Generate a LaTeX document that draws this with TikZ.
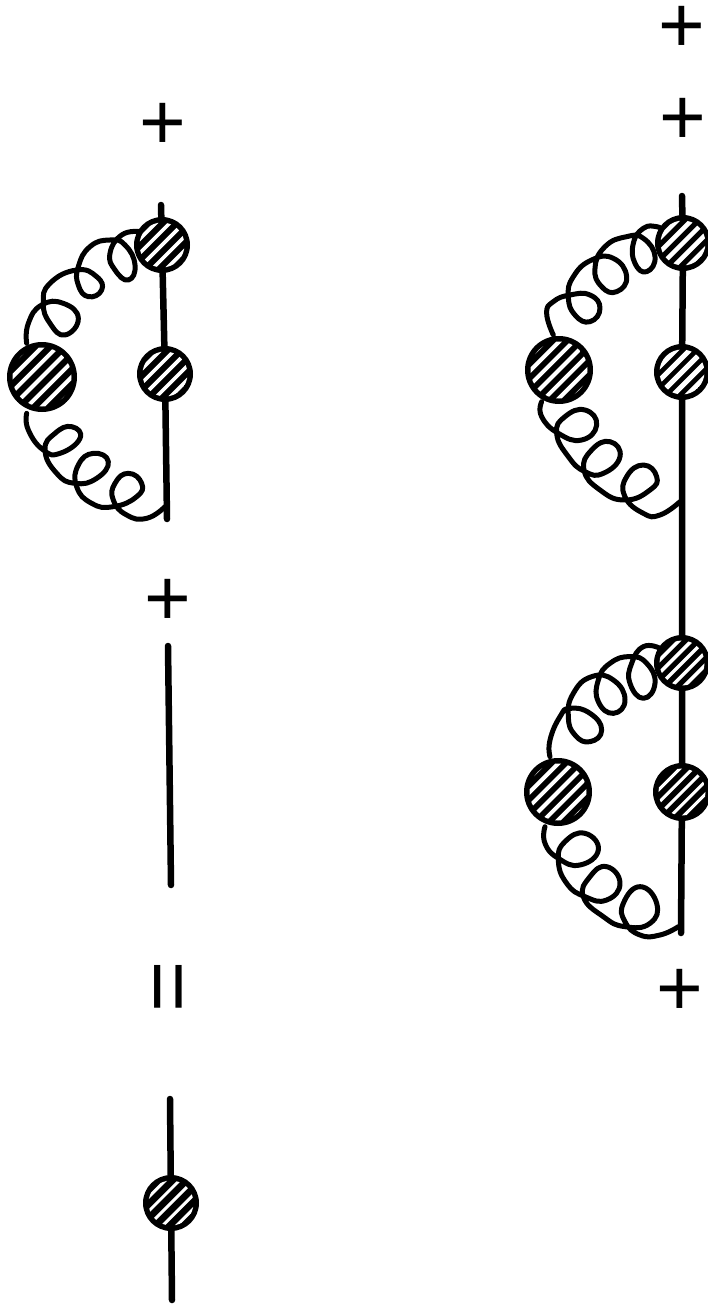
\documentclass[tikz,border=0pt]{standalone}
\usepackage{fontspec}
\setmainfont{Liberation Sans}
\newcommand{\myblob}[6]{% name,x,y,r,spacing,stripe width
  \node[blobnode,minimum size=#4*2pt] (#1) at (#2,#3) {};
  \begin{scope}[shift={(#2,#3)}]
    \clip (0,0) circle[radius=#4-5.5];
    \foreach \d in {-5,...,5}
      \draw[white,line width=#6pt] ({\d*#5*.7071-60},{\d*#5*.7071+60}) -- ({\d*#5*.7071+60},{\d*#5*.7071-60});
  \end{scope}}
\tikzset{
  blobnode/.style={circle,fill=black,draw=none,inner sep=0pt},
  mainline/.style={line width=6.5pt,line cap=round,black},
  gluon/.style={line width=5pt,line cap=round,line join=round,black},
  sign/.style={inner sep=0pt,font=\fontsize{80}{80}\selectfont},
  gl/.style={x=.33333pt,y=-.33333pt},
  loopy/.style={smooth,tension=0.85}
}
\begin{document}
\begin{tikzpicture}[x=1pt,y=-1pt]
\useasboundingbox (0,0) rectangle (707,1309);
% signs
\node[sign] (p1) at (163,126) {+};
\node[sign] (p2) at (168,602) {+};
\node[sign] (p3) at (682,29) {+};
\node[sign] (p4) at (683,121) {+};
\node[sign] (p5) at (680,992) {+};
\node[sign,rotate=90] (eq) at (176,987) {\scalebox{1.1}[1.07]{=}};
% free ends
\coordinate (lt) at (161,205);
\coordinate (le) at (167,519);
\coordinate (rt) at (682,196);
\coordinate (re) at (681,933);
\coordinate (mt) at (168,646);
\coordinate (me) at (171,885);
\coordinate (bt) at (170,1099);
\coordinate (be) at (172,1300);
% gluons
\begin{scope}[shift={(0,190)},gl]
\draw[gluon] plot[loopy] coordinates {(80,460)(85,400)(125,345)(190,340)(235,385)(195,435)(150,400)(130,340)(150,280)(230,240)(290,260)(305,300)(265,320)(235,285)(235,230)(270,170)(330,150)(375,165)(405,225)(385,270)(345,240)(330,190)(365,135)(420,125)};
\draw[gluon] plot[loopy] coordinates {(80,670)(85,720)(130,780)(180,790)(240,745)(215,710)(165,730)(135,780)(170,850)(225,880)(290,865)(325,815)(280,790)(235,825)(230,890)(275,940)(340,950)(410,920)(425,880)(385,850)(345,880)(340,930)(380,975)(440,985)(495,950)};
\end{scope}
\begin{scope}[shift={(510,180)},gl]
\draw[gluon] plot[loopy] coordinates {(130,465)(110,400)(130,365)(180,345)(240,345)(270,385)(240,425)(195,405)(175,350)(190,290)(245,240)(310,235)(350,290)(320,335)(275,320)(255,265)(285,200)(350,170)(400,175)(435,230)(410,275)(375,250)(370,190)(400,145)(440,140)(455,150)};
\draw[gluon] plot[loopy] coordinates {(95,665)(95,710)(145,760)(215,780)(260,735)(225,690)(165,710)(140,760)(175,830)(225,875)(280,880)(330,830)(300,785)(245,810)(222,870)(270,930)(345,960)(420,930)(440,890)(400,855)(350,890)(345,950)(400,1000)(450,1005)(510,965)};
\end{scope}
\begin{scope}[shift={(510,620)},gl]
\draw[gluon] plot[loopy] coordinates {(120,410)(120,360)(150,290)(180,265)(240,280)(275,330)(240,365)(195,345)(175,290)(190,220)(245,170)(310,180)(345,240)(310,280)(265,245)(265,180)(300,130)(360,110)(410,130)(435,190)(400,235)(360,190)(365,130)(400,80)(450,85)};
\draw[gluon] plot[loopy] coordinates {(105,620)(105,670)(145,715)(210,735)(265,690)(225,640)(165,665)(145,720)(170,790)(225,830)(290,840)(330,790)(290,740)(240,770)(220,830)(280,890)(345,920)(420,910)(440,850)(390,800)(340,850)(345,905)(390,945)(450,945)(505,920)};
\end{scope}
% blobs
\myblob{la}{162}{245}{28}{10}{3.6}
\myblob{lb}{42}{377}{35}{10.5}{4}
\myblob{lc}{165}{374}{28}{10}{3.6}
\myblob{ra}{683}{243}{28}{10}{4.5}
\myblob{rb}{559}{370}{34}{10}{4}
\myblob{rc}{682}{372}{28}{10}{5}
\myblob{sa}{682}{663}{28}{9}{3.5}
\myblob{sb}{558}{792}{34}{10}{4}
\myblob{sc}{682}{792}{29}{9}{3}
\myblob{ba}{171}{1203}{28}{10}{3}
% lines
\draw[mainline] (lt) -- (la) (la) -- (lc) (lc) -- (le);
\draw[mainline] (rt) -- (ra) (ra) -- (rc) (rc) -- (sa) (sa) -- (sc) (sc) -- (re);
\draw[mainline] (mt) -- (me);
\draw[mainline] (bt) -- (ba) (ba) -- (be);
\end{tikzpicture}
\end{document}
